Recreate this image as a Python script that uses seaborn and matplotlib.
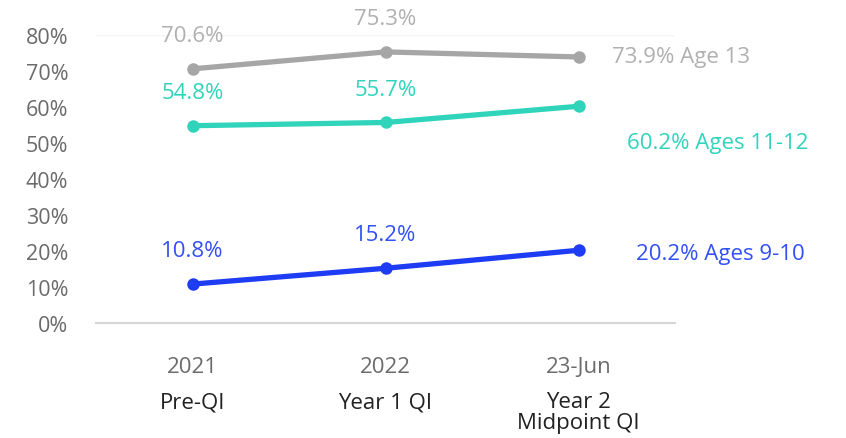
import matplotlib
matplotlib.use("Agg")
import matplotlib.pyplot as plt
import seaborn as sns
import pandas as pd

years = ["2021", "2022", "23-Jun"]
phases = ["Pre-QI", "Year 1 QI", "Year 2\nMidpoint QI"]
series = ["Age 13", "Ages 11-12", "Ages 9-10"]
age13 = [70.6, 75.3, 73.9]
ages11_12 = [54.8, 55.7, 60.2]
ages9_10 = [10.8, 15.2, 20.2]
colors = ["#a6a6a6", "#2fd4bb", "#1f3cf5"]
label_colors = ["#b0b0b0", "#2fd4bb", "#3350f5"]

rows = []
for name, vals in zip(series, [age13, ages11_12, ages9_10]):
    for i, v in enumerate(vals):
        rows.append({"x": i, "value": v, "series": name})
df = pd.DataFrame(rows)

sns.set_theme(style="white")
plt.rcParams["font.family"] = ["Open Sans", "DejaVu Sans"]
FS = 16

fig = plt.figure(figsize=(8.46, 4.39), dpi=100)
ax = fig.add_axes([0.1135, 0.262, 0.6845, 0.656])

sns.lineplot(data=df, x="x", y="value", hue="series", palette=colors,
             hue_order=series, marker="o", markersize=9, markeredgewidth=0,
             linewidth=3.8, legend=False, ax=ax)

ax.set_xlim(-0.5, 2.5)
ax.set_ylim(0, 80)
ax.set_yticks(range(0, 81, 10))
ax.set_yticklabels([f"{t}%" for t in range(0, 81, 10)], fontsize=15.5, color="#6b6b6b")
ax.tick_params(axis="y", length=0, pad=20)
ax.set_xticks([])
ax.set_xlabel("")
ax.set_ylabel("")
for s in ["top", "right", "left"]:
    ax.spines[s].set_visible(False)
ax.spines["bottom"].set_color("#d6d6d6")
ax.spines["bottom"].set_linewidth(1.5)
ax.axhline(80, color="#f4f4f4", lw=1, zorder=0)

# point labels for first two points
for vals, c in zip([age13, ages11_12, ages9_10], label_colors):
    for i in range(2):
        ax.annotate(f"{vals[i]}%", (i, vals[i]), xytext=(0, 24), textcoords="offset points",
                    ha="center", va="center", fontsize=FS, color=c, annotation_clip=False)

# end labels
end_offsets = [(24, 0), (35, -26), (41, -2)]
for vals, name, c, off in zip([age13, ages11_12, ages9_10], series, label_colors, end_offsets):
    ax.annotate(f"{vals[2]}% {name}", (2, vals[2]), xytext=off, textcoords="offset points",
                ha="left", va="center", fontsize=FS, color=c, annotation_clip=False)

# category labels
for i, (yr, ph) in enumerate(zip(years, phases)):
    ax.annotate(yr, (i, 0), xytext=(0, -31), textcoords="offset points",
                ha="center", va="center", fontsize=FS, color="#6b6b6b", annotation_clip=False)
    ax.annotate(ph, (i, 0), xytext=(0, -49), textcoords="offset points",
                ha="center", va="top", fontsize=FS, color="#222222",
                linespacing=1.0, annotation_clip=False)

fig.savefig("out.png", dpi=100)
